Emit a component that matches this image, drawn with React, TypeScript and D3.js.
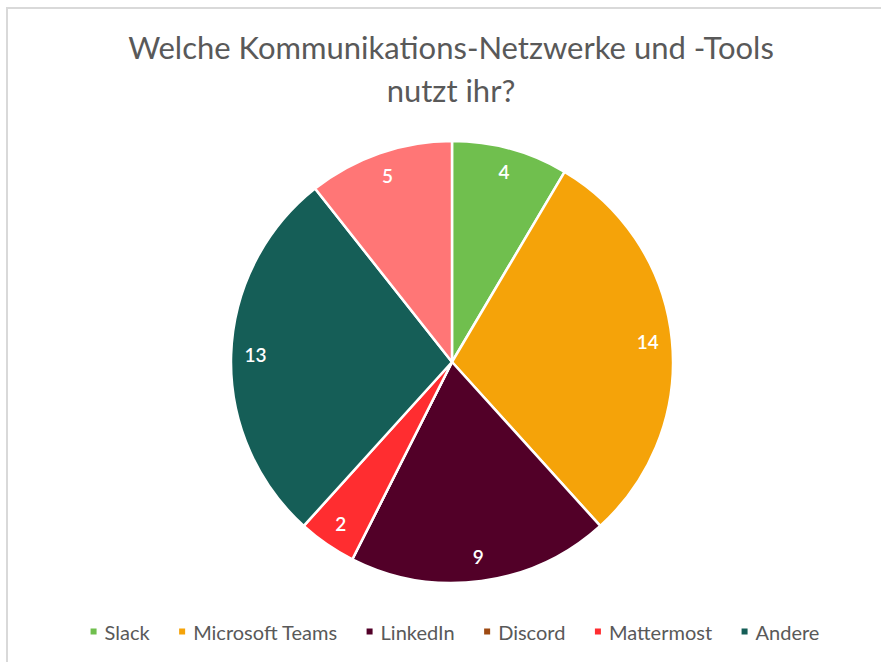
import React, { useRef, useEffect } from 'react';
import * as d3 from 'd3';

// chart data
const categories = ['Slack', 'Microsoft Teams', 'LinkedIn', 'Discord', 'Mattermost', 'Andere', 'Sonstige'];
const values = [4, 14, 9, 0, 2, 13, 5];
const colors = ['#70bf4e', '#f5a309', '#520028', '#9e4a12', '#ff2d30', '#155e57', '#ff7676'];
// the reference legend only lists the first six entries
const legendCategories = categories.slice(0, 6);
const titleLines = ['Welche Kommunikations-Netzwerke und -Tools', 'nutzt ihr?'];

const FONT = 'Lato, "Open Sans", sans-serif';

function App() {
  const ref = useRef<SVGSVGElement>(null);

  useEffect(() => {
    document.body.style.margin = '0';
    const svg = d3.select(ref.current);
    svg.selectAll('*').remove();

    const width = 881;
    const height = 662;
    const cx = 452;
    const cy = 362;
    const radius = 221;

    svg.append('rect').attr('width', width).attr('height', height).attr('fill', '#fff');
    // light frame of the exported chart area
    svg.append('rect')
      .attr('x', 7).attr('y', 8)
      .attr('width', width + 10).attr('height', height + 10)
      .attr('fill', 'none').attr('stroke', '#d9d9d9').attr('stroke-width', 2);

    // title
    svg.append('g').selectAll('text')
      .data(titleLines)
      .enter().append('text')
        .attr('x', 451)
        .attr('y', (d, i) => 59 + i * 42.5)
        .attr('text-anchor', 'middle')
        .attr('font-family', FONT)
        .attr('font-size', 31)
        .attr('fill', '#595959')
        .text(d => d);

    const data = categories.map((c, i) => ({ name: c, value: values[i], color: colors[i] }));
    const pie = d3.pie<any>().sort(null).value(d => d.value);
    const arcs = pie(data);
    const arc = d3.arc<any>().innerRadius(0).outerRadius(radius);
    const labelArc = d3.arc<any>().innerRadius(radius * 0.89).outerRadius(radius * 0.89);

    const g = svg.append('g').attr('transform', `translate(${cx},${cy})`);
    g.selectAll('path')
      .data(arcs)
      .enter().append('path')
        .attr('d', arc)
        .attr('fill', d => d.data.color)
        .attr('stroke', '#fff')
        .attr('stroke-width', 2.5)
        .attr('stroke-linejoin', 'round');

    g.selectAll('text')
      .data(arcs.filter(d => d.data.value > 0))
      .enter().append('text')
        .attr('transform', d => `translate(${labelArc.centroid(d)})`)
        .attr('text-anchor', 'middle')
        .attr('dy', '0.36em')
        .attr('font-family', FONT)
        .attr('font-size', 19)
        .attr('font-weight', 600)
        .attr('fill', '#fff')
        .text(d => d.data.value);

    // legend, measured then centred
    const legend = svg.append('g');
    const items = legend.selectAll('g')
      .data(legendCategories)
      .enter().append('g');
    items.append('rect')
      .attr('width', 6).attr('height', 6)
      .attr('y', -11.5)
      .attr('fill', (d, i) => colors[i]);
    const texts = items.append('text')
      .attr('x', 14)
      .attr('font-family', FONT)
      .attr('font-size', 20)
      .attr('fill', '#595959')
      .text(d => d);

    const widths: number[] = [];
    texts.each(function () { widths.push((this as SVGTextElement).getComputedTextLength()); });
    const gap = 29.5;
    let x = 0;
    const offsets = widths.map(w => { const o = x; x += 14 + w + gap; return o; });
    const total = x - gap;
    const startX = 455 - total / 2;
    items.attr('transform', (d, i) => `translate(${startX + offsets[i]},640)`);
  }, []);

  return <svg ref={ref} width={881} height={662} style={{ display: 'block' }}></svg>;
}

export default App;
